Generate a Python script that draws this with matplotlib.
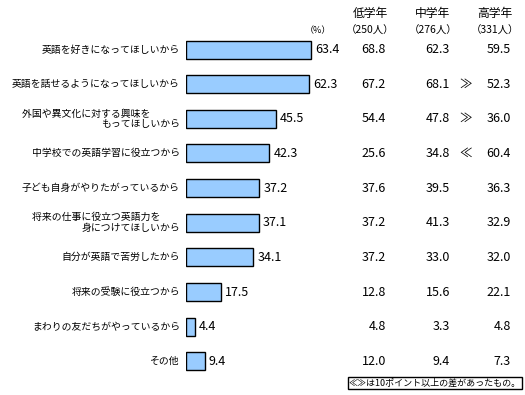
import matplotlib.pyplot as plt
import matplotlib.transforms as mtransforms

plt.rcParams['font.family'] = ['Noto Sans CJK JP', 'DejaVu Sans']

labels = ['英語を好きになってほしいから', '英語を話せるようになってほしいから',
          '外国や異文化に対する興味を\u3000\u3000\u3000\nもってほしいから', '中学校での英語学習に役立つから',
          '子ども自身がやりたがっているから', '将来の仕事に役立つ英語力を\u3000\u3000\n身につけてほしいから',
          '自分が英語で苦労したから', '将来の受験に役立つから',
          'まわりの友だちがやっているから', 'その他']
total = [63.4, 62.3, 45.5, 42.3, 37.2, 37.1, 34.1, 17.5, 4.4, 9.4]
low = [68.8, 67.2, 54.4, 25.6, 37.6, 37.2, 37.2, 12.8, 4.8, 12.0]
mid = [62.3, 68.1, 47.8, 34.8, 39.5, 41.3, 33.0, 15.6, 3.3, 9.4]
high = [59.5, 52.3, 36.0, 60.4, 36.3, 32.9, 32.0, 22.1, 4.8, 7.3]
marks = ['', '≫', '≫', '≪', '', '', '', '', '', '']
col_names = ['低学年', '中学年', '高学年']
col_counts = ['（250人）', '（276人）', '（331人）']
note = '≪≫は10ポイント以上の差があったもの。'

W, H = 525, 395
fig = plt.figure(figsize=(W / 100, H / 100), dpi=100)
x0 = 186
ax = fig.add_axes([x0 / W, 0, 1 - x0 / W, 1])
px_per_unit = 125 / 63.4
step = 34.65
y_first = 49.5
ax.set_xlim(0, (W - x0) / px_per_unit)
ax.set_ylim((H - y_first) / step, -y_first / step)
ax.axis('off')

ys = list(range(len(labels)))
ax.barh(ys, total, height=18 / step, color='#99CCFF', edgecolor='black', linewidth=1)

# size the category labels so the longest one spans the same width as in the source
renderer = fig.canvas.get_renderer()
probe = fig.text(0, 0, labels[1], fontsize=10)
w10 = probe.get_window_extent(renderer).width
probe.remove()
lab_fs = 10 * 167 / w10

fs = 9
for y, v in zip(ys, total):
    ax.text(v + 2, y, f'{v:.1f}', ha='left', va='center', fontsize=fs)

tr = mtransforms.blended_transform_factory(fig.transFigure, ax.transData)
for y, lab in zip(ys, labels):
    ax.text(180 / W, y, lab, transform=tr, ha='right', va='center', fontsize=lab_fs,
            linespacing=1.1)

col_right = [386, 450, 511]
for y in ys:
    for xr, vals in zip(col_right, [low, mid, high]):
        ax.text(xr / W, y, f'{vals[y]:.1f}', transform=tr, ha='right', va='center', fontsize=fs)
    if marks[y]:
        ax.text(466 / W, y, marks[y], transform=tr, ha='center', va='center', fontsize=fs)

for xc, name, cnt in zip([370, 433, 495], col_names, col_counts):
    fig.text(xc / W, 1 - 13 / H, name, ha='center', va='center', fontsize=8.5)
    fig.text(xc / W, 1 - 31 / H, cnt, ha='center', va='center', fontsize=7.5)
fig.text(318 / W, 1 - 31 / H, '（%）', ha='center', va='center', fontsize=6.5)

fig.text(435 / W, 1 - 383 / H, note, ha='center', va='center', fontsize=6.5,
         bbox=dict(boxstyle='square,pad=0.15', facecolor='white', edgecolor='black', linewidth=1))

fig.savefig('out.png', dpi=100)
